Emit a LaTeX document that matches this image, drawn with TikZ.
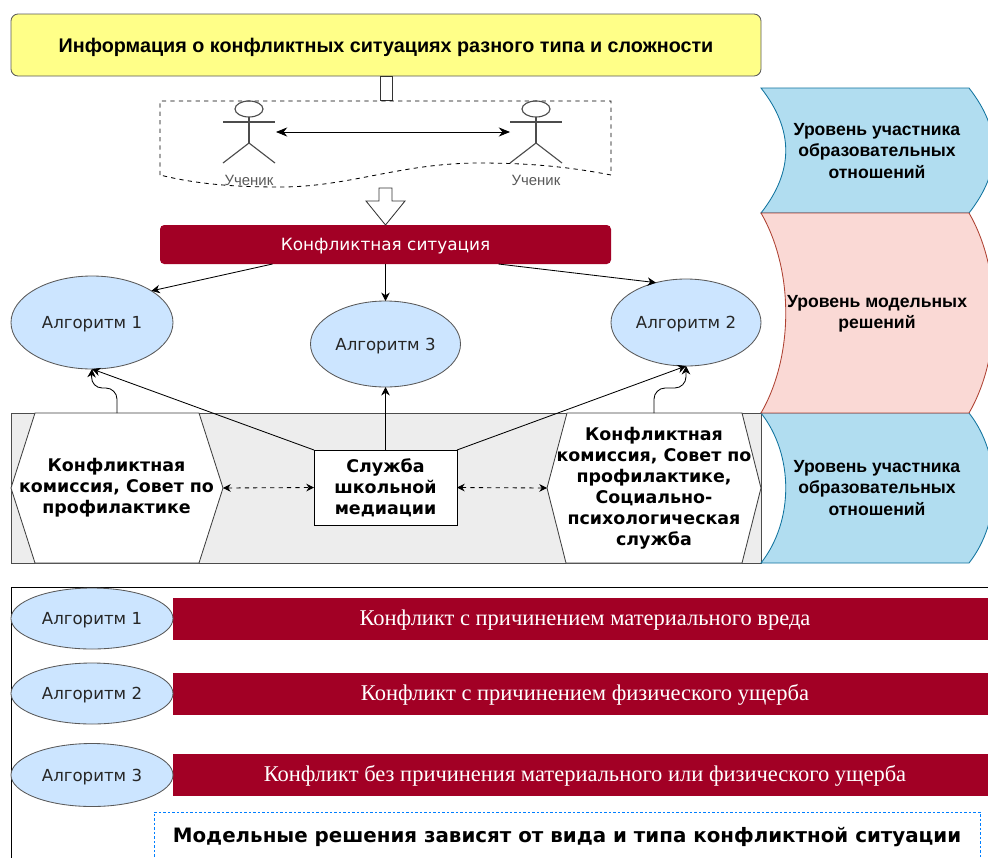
\documentclass[tikz,border=0pt]{standalone}
\usepackage{fontspec}
\usetikzlibrary{shapes.geometric,calc,arrows.meta}
\setmainfont{Liberation Sans}
\newfontfamily\dejavu{DejaVu Sans}
\newfontfamily\serifbar{Liberation Serif}
\definecolor{wine}{HTML}{A20025}
\definecolor{sky}{HTML}{B1DDF0}
\definecolor{skyline}{HTML}{10739E}
\definecolor{rose}{HTML}{FAD9D5}
\definecolor{roseline}{HTML}{AE4132}
\definecolor{algfill}{HTML}{CCE5FF}
\definecolor{lemon}{HTML}{FFFF88}
\definecolor{notedash}{HTML}{007FFF}
\tikzset{
 sized/.style 2 args={minimum width=#1*0.025cm,minimum height=#2*0.025cm,inner sep=0pt,outer sep=0pt},
 conn/.style={draw=black,-{Stealth[length=6pt,width=6pt]}},
 both/.style={draw=black,{Stealth[length=5.5pt,width=5.5pt]}-{Stealth[length=5.5pt,width=5.5pt]},dashed},
 alg/.style={ellipse,draw=black!65,fill=algfill,text=black!85,text depth=0pt,font=\dejavu\fontsize{11.8}{14}\selectfont},
 bar/.style={sized={815}{42},fill=wine},
 bartext/.style={white,font=\serifbar\fontsize{16}{18}\selectfont},
 sidetext/.style={align=center,font=\bfseries\fontsize{12.5}{15}\selectfont},
 hextext/.style={align=center,font=\dejavu\bfseries\fontsize{12.4}{15}\selectfont},
 person/.style={draw=black!70,line width=0.8pt}
}
\begin{document}
\begin{tikzpicture}[x=0.025cm,y=-0.025cm,line width=0.6pt]
\clip (0,0) rectangle (988,857);
\fill[white] (0,0) rectangle (988,857);

\node[sized={750}{62},rounded corners=5pt,draw=black!65,fill=lemon,text depth=0pt,font=\bfseries\fontsize{14.05}{16}\selectfont] (info) at (386,45) {Информация о конфликтных ситуациях разного типа и сложности};
\node[sized={12}{24},draw=black!80] (shaft) at (386,88) {};

\draw[dashed,draw=black] (160,175) -- (160,101) -- (611,101) -- (611,175) .. controls (570,167) and (530,163) .. (480,163) .. controls (400,163) and (350,187) .. (280,187) .. controls (240,187) and (200,185) .. (160,175);

\foreach \ax/\an in {249/stuL,536/stuR}{
 \draw[person] (\ax,109) ellipse (14 and 8);
 \draw[person] (\ax-26,122) -- (\ax+26,122);
 \draw[person] (\ax,117) -- (\ax,143);
 \draw[person] (\ax-26,163) -- (\ax,143) -- (\ax+26,163);
 \node[text=black!65,font=\fontsize{10.6}{12}\selectfont] (\an) at (\ax,180) {Ученик};
}
\coordinate (actL) at (276,132);
\coordinate (actR) at (510,132);
\draw[draw=black,{Stealth[length=8pt,width=6.5pt]}-{Stealth[length=8pt,width=6.5pt]}] (actL) -- (actR);

\node[sized={451}{39},rounded corners=3pt,fill=wine,text=white,text depth=0pt,font=\dejavu\fontsize{12}{14}\selectfont] (conflict) at (385.5,244.5) {Конфликтная ситуация};
\draw[draw=black!80,fill=white] (379,188) -- (392,188) -- (392,201) -- (405,201) -- (conflict.north) -- (366,201) -- (379,201) -- cycle;

\node[alg,sized={162}{93}] (algA) at (92,322.5) {Алгоритм 1};
\node[alg,sized={150}{86}] (algC) at (385.5,344) {Алгоритм 3};
\node[alg,sized={150}{87}] (algB) at (686,322.5) {Алгоритм 2};

\draw[conn] ($(conflict.south)+(-113,0)$) -- (algA.28);
\draw[conn] (conflict.south) -- (algC.north);
\draw[conn] ($(conflict.south)+(113,0)$) -- (algB.127);

\node[sized={750}{150},draw=black!70,fill=black!7] (zone) at (386,488) {};
\node[sized={212}{150}] (hexL) at (117,488) {};
\draw[draw=black!75,fill=white] (hexL.west) -- ++(24,-75) -- ++(164,0) -- (hexL.east) -- ++(-24,75) -- ++(-164,0) -- cycle;
\node[hextext] (hexLtext) at (116.5,487.5) {Конфликтная\\комиссия, Совет по\\профилактике};
\node[sized={214}{150}] (hexR) at (654,488) {};
\draw[draw=black!75,fill=white] (hexR.west) -- ++(20,-75) -- ++(175,0) -- (hexR.east) -- ++(-19,75) -- ++(-176,0) -- cycle;
\node[hextext] (hexRtext) at (654,488) {Конфликтная\\комиссия, Совет по\\профилактике,\\Социально-\\психологическая\\служба};
\node[sized={143}{75},draw=black,fill=white,hextext] (school) at (385.5,487.5) {Служба\\школьной\\медиации};

\draw[both] (hexL.east) -- (school.west);
\draw[both] (school.east) -- (hexR.west);
\draw[conn] (school.north west) -- (algA.south);
\draw[conn] (school.north) -- (algC.south);
\draw[conn] (school.north east) -- (algB.south);
\draw[conn,rounded corners=8pt] (hexL.north) |- (91,388) -- (algA.south);
\draw[conn,rounded corners=8pt] (hexR.north) |- (686,388) -- (algB.south);

\draw[draw=skyline,fill=sky] (761,88) -- (969,88) .. controls (1002,130) and (1002,171) .. (969,213) -- (761,213) .. controls (794,171) and (794,130) .. (761,88) -- cycle;
\node[sidetext] (levelA) at (877,151) {Уровень участника\\образовательных\\отношений};
\draw[draw=skyline,fill=sky] (761,413) -- (969,413) .. controls (1002,455) and (1002,521) .. (969,563) -- (761,563) .. controls (794,521) and (794,455) .. (761,413) -- cycle;
\node[sidetext] (levelC) at (877,488) {Уровень участника\\образовательных\\отношений};
\draw[draw=roseline,fill=rose] (761,213) -- (969,213) .. controls (1002,270) and (1002,356) .. (969,413) -- (761,413) .. controls (794,356) and (794,270) .. (761,213) -- cycle;
\node[sidetext] (levelB) at (877,314) {Уровень модельных\\решений};

\draw[draw=black] (11,870) -- (11,587) -- (1000,587);

\node[bar] (barA) at (580.5,619) {};
\node[bar] (barB) at (580.5,694) {};
\node[bar] (barC) at (580.5,775) {};
\node[bartext] (barAtext) at (585,620) {Конфликт с причинением материального вреда};
\node[bartext] (barBtext) at (585,695) {Конфликт с причинением физического ущерба};
\node[bartext] (barCtext) at (585,776) {Конфликт без причинения материального или физического ущерба};
\node[alg,sized={162}{61}] (keyA) at (92,618.5) {Алгоритм 1};
\node[alg,sized={162}{61}] (keyB) at (92,693.5) {Алгоритм 2};
\node[alg,sized={162}{63}] (keyC) at (92,775) {Алгоритм 3};

\draw[dash pattern=on 1.6pt off 1.6pt,draw=notedash] (154,870) -- (154,812) -- (980,812) -- (980,870);
\node[font=\dejavu\bfseries\fontsize{14.1}{17}\selectfont] (note) at (567,837) {Модельные решения зависят от вида и типа конфликтной ситуации};
\end{tikzpicture}
\end{document}
